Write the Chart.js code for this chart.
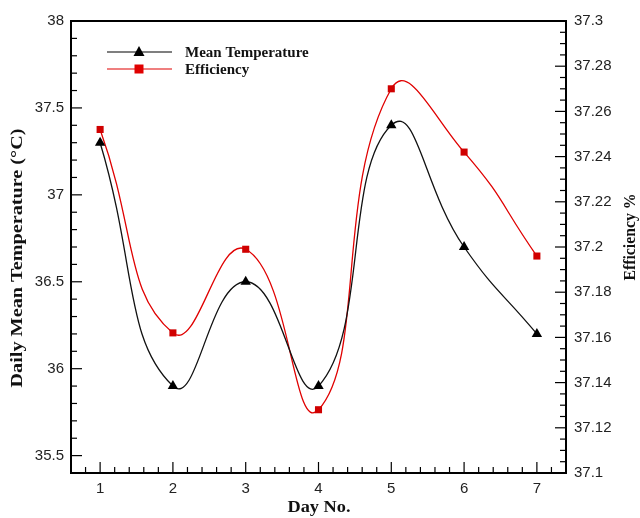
<!DOCTYPE html>
<html>
<head>
<meta charset="utf-8">
<script src="https://cdn.jsdelivr.net/npm/chart.js@4"></script>
<style>
  html, body { margin: 0; padding: 0; background: #fff; }
  #wrap { width: 640px; height: 518px; position: relative; }
</style>
</head>
<body>
<div id="wrap"><canvas id="c" width="640" height="518"></canvas></div>
<script>
const days = [1, 2, 3, 4, 5, 6, 7];
const meanTemp = [37.3, 35.9, 36.5, 35.9, 37.4, 36.7, 36.2];
const efficiency = [37.252, 37.162, 37.199, 37.128, 37.270, 37.242, 37.196];
const xTicks = [1, 2, 3, 4, 5, 6, 7];
const leftTicks = [35.5, 36, 36.5, 37, 37.5, 38];
const rightTicks = [37.1, 37.12, 37.14, 37.16, 37.18, 37.2, 37.22, 37.24, 37.26, 37.28, 37.3];

const TICK_FONT = { family: 'Liberation Sans, Arial, sans-serif', size: 15 };
const SERIF = '"Liberation Serif", "Times New Roman", serif';

// draw text squeezed/stretched to a given width
function fitText(ctx, text, cx, cy, width, rot) {
  ctx.save();
  ctx.translate(cx, cy);
  if (rot) ctx.rotate(rot);
  const w = ctx.measureText(text).width;
  ctx.scale(width / w, 1);
  ctx.fillText(text, 0, 0);
  ctx.restore();
}

// frame, inward major/minor ticks, axis titles and legend
const decor = {
  id: 'decor',
  afterDraw(chart) {
    const { ctx, chartArea: a, scales } = chart;
    const x = scales.x, yl = scales.yL, yr = scales.yR;
    ctx.save();
    ctx.strokeStyle = '#000';
    ctx.lineWidth = 1.2;
    const tick = (x1, y1, x2, y2) => { ctx.beginPath(); ctx.moveTo(x1, y1); ctx.lineTo(x2, y2); ctx.stroke(); };
    for (let v = 0.6; v <= 7.401; v += 0.2) {
      const px = x.getPixelForValue(v);
      const major = Math.abs(v - Math.round(v)) < 1e-6;
      tick(px, a.bottom, px, a.bottom - (major ? 11 : 6));
    }
    for (let v = 35.4; v <= 38.001; v += 0.1) {
      const py = yl.getPixelForValue(v);
      const major = Math.abs(v * 2 - Math.round(v * 2)) < 1e-6;
      tick(a.left, py, a.left + (major ? 11 : 6), py);
    }
    for (let v = 37.1; v <= 37.3001; v += 0.005) {
      const py = yr.getPixelForValue(v);
      const major = Math.abs(v * 50 - Math.round(v * 50)) < 1e-6;
      tick(a.right, py, a.right - (major ? 11 : 6), py);
    }
    ctx.lineWidth = 2;
    ctx.strokeRect(a.left, a.top, a.right - a.left, a.bottom - a.top);

    // titles
    ctx.fillStyle = '#111';
    ctx.font = 'bold 16px ' + SERIF;
    ctx.textAlign = 'center';
    ctx.textBaseline = 'middle';
    fitText(ctx, 'Day No.', 319, 508, 63, 0);
    fitText(ctx, 'Daily Mean Temperature (°C)', 18, 258, 259, -Math.PI / 2);
    fitText(ctx, 'Efficiency %', 631, 237, 87, -Math.PI / 2);

    // legend
    const rows = [
      { label: 'Mean Temperature', color: '#000', shape: 'tri', y: 52 },
      { label: 'Efficiency', color: '#e00000', shape: 'sq', y: 69 },
    ];
    ctx.font = 'bold 15px ' + SERIF;
    ctx.textAlign = 'left';
    rows.forEach(r => {
      ctx.strokeStyle = r.color;
      ctx.lineWidth = 1.2;
      tick(107, r.y, 172, r.y);
      ctx.fillStyle = r.color;
      ctx.beginPath();
      if (r.shape === 'tri') {
        ctx.moveTo(139, r.y - 6); ctx.lineTo(144.5, r.y + 4); ctx.lineTo(133.5, r.y + 4); ctx.closePath();
      } else {
        ctx.rect(134.5, r.y - 4.5, 9, 9);
      }
      ctx.fill();
      ctx.fillStyle = '#111';
      ctx.fillText(r.label, 185, r.y + 1);
    });
    ctx.restore();
  }
};

new Chart(document.getElementById('c'), {
  type: 'line',
  data: {
    datasets: [
      {
        label: 'Mean Temperature',
        data: days.map((d, i) => ({ x: d, y: meanTemp[i] })),
        yAxisID: 'yL',
        borderColor: '#111', backgroundColor: '#000', borderWidth: 1.3,
        pointStyle: 'triangle', pointRadius: 6, pointBorderWidth: 0,
        tension: 0.5,
      },
      {
        label: 'Efficiency',
        data: days.map((d, i) => ({ x: d, y: efficiency[i] })),
        yAxisID: 'yR',
        borderColor: '#e00000', backgroundColor: '#d00000', borderWidth: 1.3,
        pointStyle: 'rect', pointRadius: 5, pointBorderWidth: 0,
        tension: 0.5,
      },
    ],
  },
  plugins: [decor],
  options: {
    responsive: false, animation: false,
    layout: { padding: { top: 21 } },
    plugins: { legend: { display: false }, tooltip: { enabled: false } },
    scales: {
      x: {
        type: 'linear', min: 0.6, max: 7.4,
        afterBuildTicks: s => { s.ticks = xTicks.map(v => ({ value: v })); },
        afterFit: s => { s.height = 45; },
        grid: { display: false, drawTicks: false },
        border: { display: false },
        ticks: { color: '#222', font: TICK_FONT, padding: 7, maxRotation: 0 },
      },
      yL: {
        position: 'left', min: 35.4, max: 38,
        afterBuildTicks: s => { s.ticks = leftTicks.map(v => ({ value: v })); },
        afterFit: s => { s.width = 71; },
        grid: { display: false, drawTicks: false },
        border: { display: false },
        ticks: { color: '#222', font: TICK_FONT, padding: 7, callback: v => String(v) },
      },
      yR: {
        position: 'right', min: 37.1, max: 37.3,
        afterBuildTicks: s => { s.ticks = rightTicks.map(v => ({ value: v })); },
        afterFit: s => { s.width = 74; },
        grid: { display: false, drawTicks: false },
        border: { display: false },
        ticks: { color: '#222', font: TICK_FONT, padding: 8, callback: v => String(Number(v.toFixed(2))) },
      },
    },
  },
});
</script>
</body>
</html>
